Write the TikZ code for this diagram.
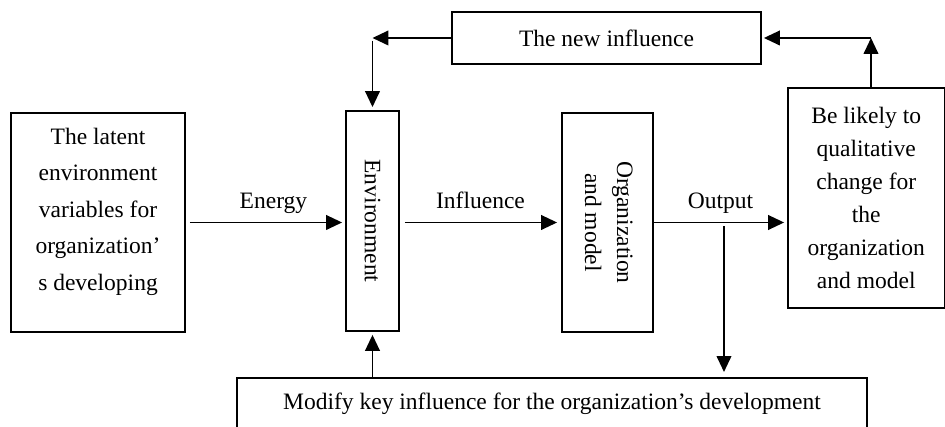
\documentclass[tikz,border=0pt]{standalone}
\usepackage{fontspec}
\setmainfont{Liberation Serif}
\usepackage{graphicx}
\usetikzlibrary{arrows.meta}
\tikzset{
  box/.style={draw, line width=1.4pt, align=center, inner sep=0pt, text=black},
  flow/.style={-{Triangle[length=12pt,width=11pt]}, line width=1.4pt},
  tag/.style={above=4pt, text depth=0.22em}
}

\begin{document}
\begin{tikzpicture}[font=\fontsize{17.7}{27.5}\selectfont]
  \useasboundingbox (0,0) rectangle (25,11.296);
  \clip (0,0) rectangle (25,11.296);

  \node[box, minimum width=4.603cm, minimum height=5.794cm, text depth=20.3pt] (latent) at (2.593,5.410)
    {The latent\\environment\\variables for\\organization’\\s developing};
  \node[box, minimum width=1.402cm, minimum height=5.820cm] (env) at (9.854,5.450)
    {\rotatebox{-90}{Environment}};
  \node[box, minimum width=2.407cm, minimum height=5.794cm] (org) at (16.071,5.410)
    {\rotatebox{-90}{\fontsize{17.7}{24}\selectfont\begin{tabular}{@{}c@{}}Organization\\and model\end{tabular}}};
  \node[box, minimum width=4.14cm, minimum height=5.820cm, font=\fontsize{17.7}{24.75}\selectfont] (likely) at (22.917,6.058)
    {Be likely to\\qualitative\\change for\\the\\organization\\and model};
  \node[box, minimum width=8.175cm, minimum height=1.376cm] (newinf) at (16.045,10.291) {The new influence};
  \node[box, anchor=north, minimum width=16.667cm, minimum height=1.376cm] (modify) at (14.603,1.323)
    {Modify key influence for the organization’s development};

  \coordinate (upturn) at (23.042,10.291);
  \coordinate (downturn) at (env.north |- newinf.west);
  \coordinate (branch) at (19.153,5.410);

  \draw[flow, shorten <=3pt, shorten >=2.25pt] (latent.east) -- node[tag, pos=0.55] {Energy} (latent.east -| env.west);
  \draw[flow, shorten <=3.75pt, shorten >=3pt] (env.east |- org.west) -- node[tag] {Influence} (org.west);
  \draw[flow, shorten >=2.25pt] (org.east) -- node[tag] {Output} (org.east -| likely.west);
  \draw[flow] (upturn |- likely.north) -- (upturn);
  \draw[flow, shorten >=1.5pt] (upturn) -- (newinf.east);
  \draw[flow] (newinf.west) -- (downturn);
  \draw[flow, shorten <=2pt, shorten >=2.25pt] (downturn) -- (env.north);
  \draw[flow, shorten >=2.25pt] (modify.north -| env.south) -- (env.south);
  \draw[flow, shorten <=3pt, shorten >=3.75pt] (branch) -- (branch |- modify.north);
\end{tikzpicture}
\end{document}
